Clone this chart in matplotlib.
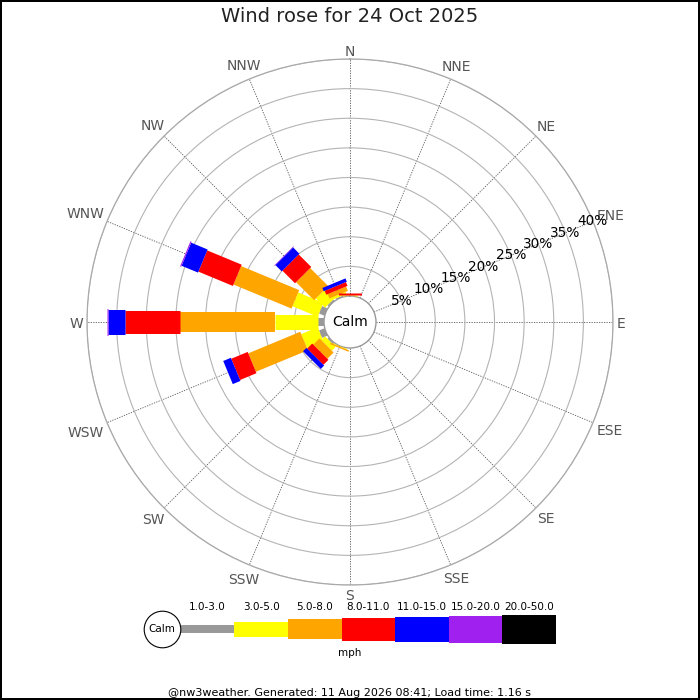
import numpy as np
import matplotlib
matplotlib.use('Agg')
import matplotlib.pyplot as plt

# %% Data (percent of time per direction and speed bin):

directions = ['N', 'NNE', 'NE', 'ENE', 'E', 'ESE', 'SE', 'SSE',
              'S', 'SSW', 'SW', 'WSW', 'W', 'WNW', 'NW', 'NNW']
speed_bins = ['1.0-3.0', '3.0-5.0', '5.0-8.0', '8.0-11.0',
              '11.0-15.0', '15.0-20.0', '20.0-50.0']

#            N     NNE NE ENE E ESE SE SSE S  SSW   SW   WSW   W     WNW   NW    NNW
spd_1_3   = [0.05, 0, 0, 0, 0, 0, 0, 0, 0, 0.0,  0.3, 1.0,  1.0,  1.0,  0.3,  0.2]
spd_3_5   = [0.05, 0, 0, 0, 0, 0, 0, 0, 0, 0.1,  0.9, 3.0,  7.3,  4.6,  2.2,  0.4]
spd_5_8   = [0.1,  0, 0, 0, 0, 0, 0, 0, 0, 0.25, 1.5, 9.5,  16.0, 10.6, 4.3,  0.8]
spd_8_11  = [0.25, 0, 0, 0, 0, 0, 0, 0, 0, 0.0,  1.2, 3.0,  9.3,  6.3,  3.0,  0.7]
spd_11_15 = [0,    0, 0, 0, 0, 0, 0, 0, 0, 0,    0.8, 1.4,  2.8,  3.0,  1.5,  0.6]
spd_15_20 = [0,    0, 0, 0, 0, 0, 0, 0, 0, 0,    0,   0,    0.2,  0.2,  0.1,  0]
spd_20_50 = [0,    0, 0, 0, 0, 0, 0, 0, 0, 0,    0,   0,    0,    0,    0,    0]

rings = [5, 10, 15, 20, 25, 30, 35, 40]

# %% Styles:

colors = ['#999999', '#ffff00', '#ffa500', '#ff0000', '#0000ff', '#a020f0', '#000000']
bar_px = [8, 15, 20, 23, 25, 27, 29]  # bar thickness in pixels per speed bin

table = np.array([spd_1_3, spd_3_5, spd_5_8, spd_8_11,
                  spd_11_15, spd_15_20, spd_20_50])
theta = np.deg2rad(np.arange(16) * 22.5)

# %% Figure and polar axes:

W = 700
fig = plt.figure(figsize=(7, 7), dpi=100)
fig.patch.set_edgecolor('black')
fig.patch.set_linewidth(1.5)

R = 263  # outer radius [px]
hole = 26  # calm circle radius [px]
cx, cy = 350, 322
ax = fig.add_axes([(cx - R) / W, (W - cy - R) / W, 2 * R / W, 2 * R / W],
                  projection='polar')
ax.set_theta_zero_location('N')
ax.set_theta_direction(-1)
rmax = rings[-1]
ax.set_ylim(0, rmax)
ax.set_rorigin(-rmax * hole / (R - hole))

ax.set_xticks(theta)
ax.set_xticklabels([])
ax.set_yticks(rings)
ax.set_yticklabels([])
ax.tick_params(length=0)
ax.xaxis.grid(True, linestyle=(0, (1.5, 1.5)), color='#555555', linewidth=0.6)
ax.yaxis.grid(True, linestyle='-', color='#b4b4b4', linewidth=0.8)
ax.spines['polar'].set_color('#aaaaaa')
ax.spines['polar'].set_linewidth(0.9)
ax.spines['inner'].set_color('#999999')
ax.spines['inner'].set_linewidth(1.0)

# Stacked bars, constant pixel width per bin:
base = np.zeros(16)
for i in range(len(speed_bins)):
    for j in range(16):
        v = table[i, j]
        if v > 0:
            ax.plot([theta[j], theta[j]], [base[j], base[j] + v],
                    color=colors[i], linewidth=bar_px[i] * 0.72,
                    solid_capstyle='butt', zorder=3)
    base += table[i]

# Radial labels along ENE spoke:
for r in rings:
    ax.text(np.deg2rad(67.5), r, f'{r}%', ha='center', va='center',
            fontsize=9.8, color='black', zorder=5)

ax.text(0.5, 0.5, 'Calm', transform=ax.transAxes, ha='center',
        va='center', fontsize=10)

# Direction labels outside the circle:
dir_txt = []
for th, name in zip(theta, directions):
    t = ax.annotate(name, xy=(th, rmax), xytext=(0, 0),
                    textcoords='offset pixels', ha='center',
                    va='center_baseline', fontsize=10, color='#555555',
                    annotation_clip=False)
    dir_txt.append(t)

fig.canvas.draw()
for t, th in zip(dir_txt, theta):
    bb = t.get_window_extent()
    a = np.pi / 2 - th
    d = 4 + abs(np.cos(a)) * bb.width / 2 + abs(np.sin(a)) * 5
    t.xyann = (d * np.cos(a), d * np.sin(a))

# %% Title, legend, footer:

fig.text(0.5, 1 - 17 / W, 'Wind rose for 24 Oct 2025', ha='center',
         va='center', fontsize=14, color='#222222')

lx0, lw = 180.7, 53.6
lax = fig.add_axes([lx0 / W, (W - 659) / W, 7 * lw / W, 60 / W])
lax.set_xlim(0, 7)
lax.set_ylim(-30, 30)
lax.axis('off')
bp = np.array(bar_px)
lax.bar(np.arange(7), bp, width=1, bottom=-bp / 2, align='edge',
        color=colors, zorder=2)
for i, lab in enumerate(speed_bins):
    lax.text(i + 0.5, 22.5, lab, ha='center', va='center', fontsize=7.5)
calm_x = (162.3 - lx0) / lw
lax.plot(calm_x, 0, 'o', ms=36.6 * 0.72, mfc='white', mec='black',
         mew=0.8, clip_on=False, zorder=3)
lax.text(calm_x, 0, 'Calm', ha='center', va='center', fontsize=7.5,
         zorder=4)

fig.text(0.5, 1 - 653.5 / W, 'mph', ha='center', va='center', fontsize=7.5)
fig.text(0.5, 1 - 693 / W,
         '@nw3weather. Generated: 11 Aug 2026 08:41; Load time: 1.16 s',
         ha='center', va='center', fontsize=8)

fig.savefig('out.png', dpi=100, edgecolor=fig.get_edgecolor())
